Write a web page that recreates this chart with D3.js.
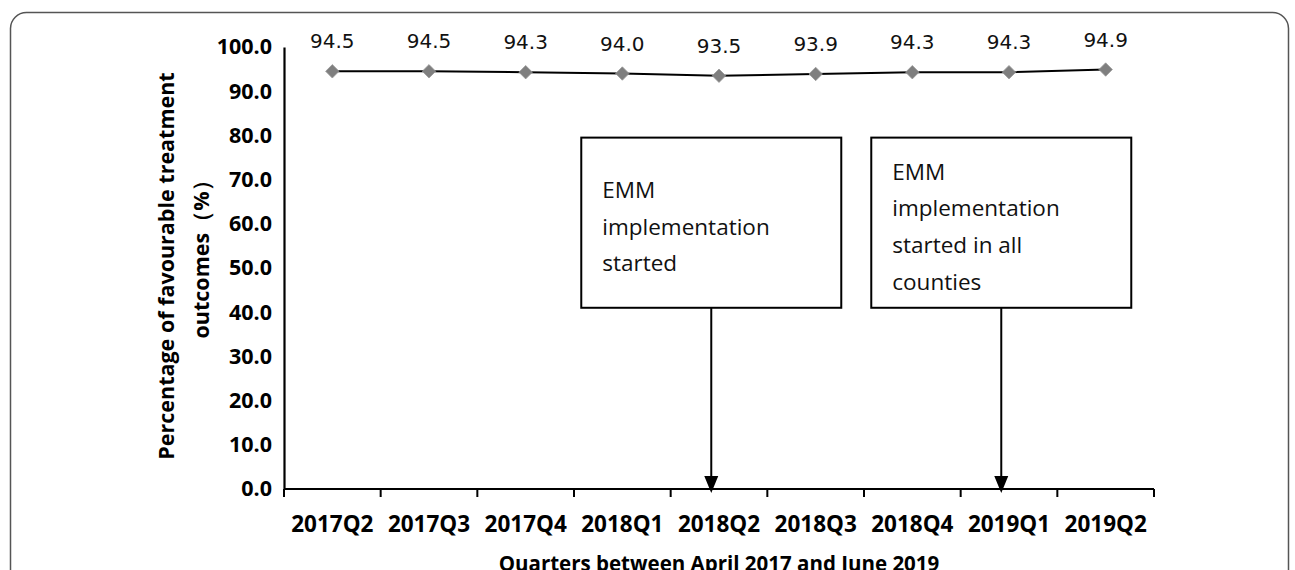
<!DOCTYPE html>
<html>
<head>
<meta charset="utf-8">
<script src="https://cdn.jsdelivr.net/npm/d3@7"></script>
<style>
  body { margin: 0; background: #fff; }
  svg { display: block; }
</style>
</head>
<body>
<div id="chart"></div>
<script>
// data
var quarters = ["2017Q2", "2017Q3", "2017Q4", "2018Q1", "2018Q2", "2018Q3", "2018Q4", "2019Q1", "2019Q2"];
var favourable = [94.5, 94.5, 94.3, 94.0, 93.5, 93.9, 94.3, 94.3, 94.9];
var yTicks = [0, 10, 20, 30, 40, 50, 60, 70, 80, 90, 100];
var noteQuarters = ["2018Q2", "2019Q1"];
var noteLines = [
    ["EMM", "implementation", "started"],
    ["EMM", "implementation", "started in all", "counties"]
];

var width = 1295, height = 570,
    margin = {top: 47, left: 284, right: 141, bottom: 81};

var svg = d3.select("#chart").append("svg")
    .attr("width", width)
    .attr("height", height);

// rounded frame, bottom runs off the picture
svg.append("rect")
    .attr("x", 10.5).attr("y", 12.5)
    .attr("width", 1278).attr("height", 700)
    .attr("rx", 16)
    .attr("fill", "none")
    .attr("stroke", "#555")
    .attr("stroke-width", 1.5);

var x = d3.scaleBand()
    .domain(quarters)
    .range([margin.left, width - margin.right])
    .padding(0);

var y = d3.scaleLinear()
    .domain([0, 100])
    .range([height - margin.bottom, margin.top]);

var bodyFont = "'Open Sans', sans-serif";

// x axis with ticks on band edges
var xAxis = svg.append("g")
    .attr("transform", "translate(0," + y(0) + ")");
xAxis.append("line")
    .attr("x1", x.range()[0]).attr("x2", x.range()[1])
    .attr("stroke", "#000").attr("stroke-width", 2.2);
xAxis.selectAll(".edge")
    .data(quarters.concat(["end"]))
    .enter().append("line")
    .attr("x1", function(d, i) { return x.range()[0] + i * x.step(); })
    .attr("x2", function(d, i) { return x.range()[0] + i * x.step(); })
    .attr("y1", 0).attr("y2", 8)
    .attr("stroke", "#000").attr("stroke-width", 2);
xAxis.selectAll(".lab")
    .data(quarters)
    .enter().append("text")
    .attr("x", function(d) { return x(d) + x.bandwidth() / 2; })
    .attr("y", 43)
    .attr("text-anchor", "middle")
    .attr("font-family", bodyFont)
    .attr("font-weight", "bold")
    .attr("font-size", 22.5)
    .attr("fill", "#000")
    .text(function(d) { return d; });

// y axis
var yAxis = svg.append("g")
    .attr("transform", "translate(" + margin.left + ",0)")
    .call(d3.axisLeft(y).tickValues(yTicks).tickSize(0).tickPadding(12)
        .tickFormat(d3.format(".1f")));
yAxis.select(".domain").attr("stroke", "#000").attr("stroke-width", 2.2);
yAxis.selectAll("text")
    .attr("font-family", bodyFont)
    .attr("font-weight", "bold")
    .attr("font-size", 21.5)
    .attr("fill", "#000");

// axis titles
svg.append("text")
    .attr("transform", "translate(" + ((x.range()[0] + x.range()[1]) / 2) + "," + 571 + ")")
    .attr("text-anchor", "middle")
    .attr("font-family", bodyFont)
    .attr("font-weight", "bold")
    .attr("font-size", 20.5)
    .text("Quarters between April 2017 and June 2019");

var yTitle = svg.append("text")
    .attr("transform", "translate(174,266) rotate(-90)")
    .attr("text-anchor", "middle")
    .attr("font-family", bodyFont)
    .attr("font-weight", "bold")
    .attr("font-size", 21.5);
yTitle.append("tspan").attr("x", 0).attr("y", 0).text("Percentage of favourable treatment");
yTitle.append("tspan").attr("x", 12).attr("y", 35).text("outcomes（%）");

// series
var pts = quarters.map(function(q, i) { return {q: q, v: favourable[i]}; });
var cx = function(d) { return x(d.q) + x.bandwidth() / 2; };

svg.append("path")
    .datum(pts)
    .attr("fill", "none")
    .attr("stroke", "#000")
    .attr("stroke-width", 2)
    .attr("d", d3.line().x(cx).y(function(d) { return y(d.v); }));

svg.selectAll(".pt")
    .data(pts)
    .enter().append("path")
    .attr("transform", function(d) { return "translate(" + cx(d) + "," + y(d.v) + ")"; })
    .attr("d", d3.symbol().type(d3.symbolDiamond2).size(115))
    .attr("fill", "#7f7f7f")
    .attr("stroke", "#999")
    .attr("stroke-width", 0.8);

svg.selectAll(".val")
    .data(pts)
    .enter().append("text")
    .attr("x", cx)
    .attr("y", function(d) { return y(d.v) - 23; })
    .attr("text-anchor", "middle")
    .attr("font-family", "'DejaVu Sans', sans-serif")
    .attr("font-size", 20)
    .attr("fill", "#111")
    .text(function(d) { return d.v.toFixed(1); });

// annotation boxes with arrows
var boxW = 260, boxTop = y(79.5), boxBottom = y(41), lineH = 36.6,
    tipY = y(0) + 4, headL = 17, headW = 7;

noteQuarters.forEach(function(q, k) {
    var ax = x(q) + x.bandwidth() * 0.42;
    var g = svg.append("g");
    g.append("rect")
        .attr("x", ax - boxW / 2).attr("y", boxTop)
        .attr("width", boxW).attr("height", boxBottom - boxTop)
        .attr("fill", "#fff")
        .attr("stroke", "#000")
        .attr("stroke-width", 2);
    g.append("line")
        .attr("x1", ax).attr("x2", ax)
        .attr("y1", boxBottom).attr("y2", tipY - headL + 2)
        .attr("stroke", "#000")
        .attr("stroke-width", 2);
    g.append("path")
        .attr("d", "M" + (ax - headW) + "," + (tipY - headL) +
            "L" + (ax + headW) + "," + (tipY - headL) +
            "L" + ax + "," + tipY + "Z")
        .attr("fill", "#000");
    var lines = noteLines[k];
    var mid = boxTop + 97;
    g.selectAll("text")
        .data(lines)
        .enter().append("text")
        .attr("x", ax - boxW / 2 + 21)
        .attr("y", function(d, i) { return mid + (i - (lines.length - 1) / 2) * lineH; })
        .attr("font-family", bodyFont)
        .attr("font-size", 22.5)
        .attr("fill", "#111")
        .text(function(d) { return d; });
});
</script>
</body>
</html>
